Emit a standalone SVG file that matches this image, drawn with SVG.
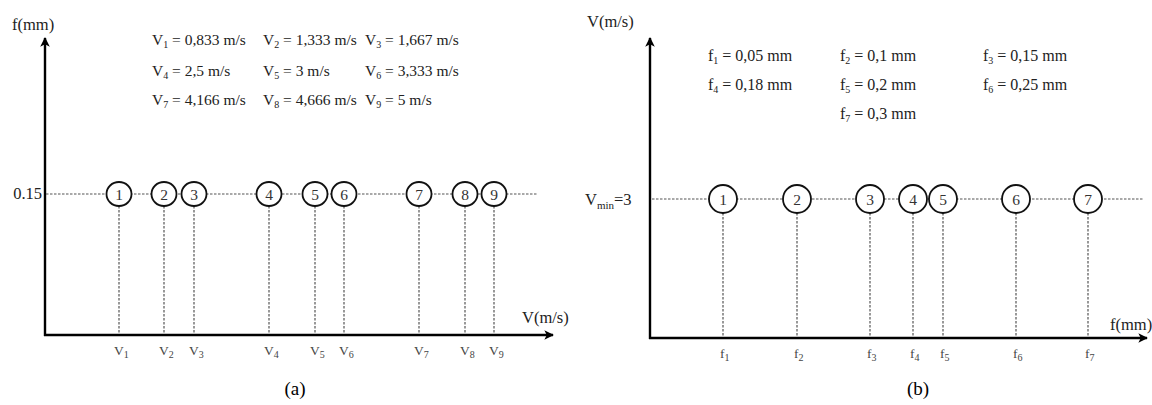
<svg xmlns="http://www.w3.org/2000/svg" width="1152" height="405" viewBox="0 0 1152 405">
<defs>
<marker id="arr" viewBox="0 0 10 10" refX="9" refY="5" markerWidth="4" markerHeight="4" orient="auto" markerUnits="strokeWidth">
<path d="M0,0 L10,5 L0,10 L2.5,5 Z" fill="#000"/>
</marker>
<style>
.axis{stroke:#000;stroke-width:2.4;fill:none}
.dash{stroke:#555;stroke-width:1.2;stroke-dasharray:2.5 1.5;fill:none}
.node ellipse,.node circle{fill:#fff;stroke:#111;stroke-width:1.8}
.num{font-family:"Liberation Serif",serif;font-size:15.5px;fill:#333;text-anchor:middle}
.leg{font-family:"Liberation Serif",serif;font-size:15.5px;fill:#222}
.legb{font-family:"Liberation Serif",serif;font-size:16px;fill:#222}
.lab{font-family:"Liberation Serif",serif;font-size:16.5px;fill:#222}
.tick{font-family:"Liberation Serif",serif;font-size:13.5px;fill:#444}
.sub{font-size:10px}
.cap{font-family:"Liberation Serif",serif;font-size:19px;fill:#000;text-anchor:middle}
</style>
</defs>

<!-- Panel (a) -->
<g id="axes-a">
<line class="axis" x1="45" y1="336" x2="45" y2="38" marker-end="url(#arr)"/>
<line class="axis" x1="44" y1="335" x2="553" y2="335" marker-end="url(#arr)"/>
<text class="lab" x="12" y="30">f(mm)</text>
<text class="lab" x="522" y="323">V(m/s)</text>
<text class="lab" x="42" y="199" text-anchor="end" font-size="15">0.15</text>
</g>

<g id="connectors-a">
<line class="dash" x1="46" y1="194" x2="537" y2="194"/>
<line class="dash" x1="119" y1="206" x2="119" y2="334"/>
<line class="dash" x1="164" y1="206" x2="164" y2="334"/>
<line class="dash" x1="194" y1="206" x2="194" y2="334"/>
<line class="dash" x1="269" y1="206" x2="269" y2="334"/>
<line class="dash" x1="315" y1="206" x2="315" y2="334"/>
<line class="dash" x1="344" y1="206" x2="344" y2="334"/>
<line class="dash" x1="419" y1="206" x2="419" y2="334"/>
<line class="dash" x1="465" y1="206" x2="465" y2="334"/>
<line class="dash" x1="494" y1="206" x2="494" y2="334"/>
</g>

<g id="a-node1" class="node"><ellipse cx="119" cy="194" rx="12.5" ry="12"/><text class="num" x="119" y="199.5">1</text></g>
<g id="a-node2" class="node"><ellipse cx="164" cy="194" rx="12.5" ry="12"/><text class="num" x="164" y="199.5">2</text></g>
<g id="a-node3" class="node"><ellipse cx="194" cy="194" rx="12.5" ry="12"/><text class="num" x="194" y="199.5">3</text></g>
<g id="a-node4" class="node"><ellipse cx="269" cy="194" rx="12.5" ry="12"/><text class="num" x="269" y="199.5">4</text></g>
<g id="a-node5" class="node"><ellipse cx="315" cy="194" rx="12.5" ry="12"/><text class="num" x="315" y="199.5">5</text></g>
<g id="a-node6" class="node"><ellipse cx="344" cy="194" rx="12.5" ry="12"/><text class="num" x="344" y="199.5">6</text></g>
<g id="a-node7" class="node"><ellipse cx="419" cy="194" rx="12.5" ry="12"/><text class="num" x="419" y="199.5">7</text></g>
<g id="a-node8" class="node"><ellipse cx="465" cy="194" rx="12.5" ry="12"/><text class="num" x="465" y="199.5">8</text></g>
<g id="a-node9" class="node"><ellipse cx="494" cy="194" rx="12.5" ry="12"/><text class="num" x="494" y="199.5">9</text></g>

<g id="ticks-a">
<text class="tick" x="114" y="355">V<tspan class="sub" dy="3">1</tspan></text>
<text class="tick" x="159" y="355">V<tspan class="sub" dy="3">2</tspan></text>
<text class="tick" x="189" y="355">V<tspan class="sub" dy="3">3</tspan></text>
<text class="tick" x="264" y="355">V<tspan class="sub" dy="3">4</tspan></text>
<text class="tick" x="310" y="355">V<tspan class="sub" dy="3">5</tspan></text>
<text class="tick" x="339" y="355">V<tspan class="sub" dy="3">6</tspan></text>
<text class="tick" x="414" y="355">V<tspan class="sub" dy="3">7</tspan></text>
<text class="tick" x="460" y="355">V<tspan class="sub" dy="3">8</tspan></text>
<text class="tick" x="489" y="355">V<tspan class="sub" dy="3">9</tspan></text>
</g>

<g id="legend-a">
<text class="leg" x="152" y="45">V<tspan class="sub" dy="3">1</tspan><tspan dy="-3"> = 0,833 m/s</tspan></text>
<text class="leg" x="263" y="45">V<tspan class="sub" dy="3">2</tspan><tspan dy="-3"> = 1,333 m/s</tspan></text>
<text class="leg" x="365" y="45">V<tspan class="sub" dy="3">3</tspan><tspan dy="-3"> = 1,667 m/s</tspan></text>
<text class="leg" x="152" y="76">V<tspan class="sub" dy="3">4</tspan><tspan dy="-3"> = 2,5 m/s</tspan></text>
<text class="leg" x="263" y="76">V<tspan class="sub" dy="3">5</tspan><tspan dy="-3"> = 3 m/s</tspan></text>
<text class="leg" x="365" y="76">V<tspan class="sub" dy="3">6</tspan><tspan dy="-3"> = 3,333 m/s</tspan></text>
<text class="leg" x="152" y="105">V<tspan class="sub" dy="3">7</tspan><tspan dy="-3"> = 4,166 m/s</tspan></text>
<text class="leg" x="263" y="105">V<tspan class="sub" dy="3">8</tspan><tspan dy="-3"> = 4,666 m/s</tspan></text>
<text class="leg" x="365" y="105">V<tspan class="sub" dy="3">9</tspan><tspan dy="-3"> = 5 m/s</tspan></text>
</g>

<text class="cap" x="295" y="395">(a)</text>

<!-- Panel (b) -->
<g id="axes-b">
<line class="axis" x1="650" y1="339" x2="650" y2="38" marker-end="url(#arr)"/>
<line class="axis" x1="649" y1="338" x2="1147" y2="338" marker-end="url(#arr)"/>
<text class="lab" x="587" y="27">V(m/s)</text>
<text class="lab" x="1110" y="330" font-size="13.5">f(mm)</text>
<text class="lab" x="585" y="205">V<tspan font-size="11" dy="4">min</tspan><tspan dy="-4">=3</tspan></text>
</g>

<g id="connectors-b">
<line class="dash" x1="652" y1="199" x2="1143" y2="199"/>
<line class="dash" x1="723" y1="213" x2="723" y2="337"/>
<line class="dash" x1="797" y1="213" x2="797" y2="337"/>
<line class="dash" x1="870" y1="213" x2="870" y2="337"/>
<line class="dash" x1="913" y1="213" x2="913" y2="337"/>
<line class="dash" x1="943" y1="213" x2="943" y2="337"/>
<line class="dash" x1="1016" y1="213" x2="1016" y2="337"/>
<line class="dash" x1="1088" y1="213" x2="1088" y2="337"/>
</g>

<g id="b-node1" class="node"><circle cx="723" cy="199" r="14"/><text class="num" x="723" y="204.5">1</text></g>
<g id="b-node2" class="node"><circle cx="797" cy="199" r="14"/><text class="num" x="797" y="204.5">2</text></g>
<g id="b-node3" class="node"><circle cx="870" cy="199" r="14"/><text class="num" x="870" y="204.5">3</text></g>
<g id="b-node4" class="node"><circle cx="913" cy="199" r="14"/><text class="num" x="913" y="204.5">4</text></g>
<g id="b-node5" class="node"><circle cx="943" cy="199" r="14"/><text class="num" x="943" y="204.5">5</text></g>
<g id="b-node6" class="node"><circle cx="1016" cy="199" r="14"/><text class="num" x="1016" y="204.5">6</text></g>
<g id="b-node7" class="node"><circle cx="1088" cy="199" r="14"/><text class="num" x="1088" y="204.5">7</text></g>

<g id="ticks-b">
<text class="tick" x="720" y="358">f<tspan class="sub" dy="3">1</tspan></text>
<text class="tick" x="794" y="358">f<tspan class="sub" dy="3">2</tspan></text>
<text class="tick" x="867" y="358">f<tspan class="sub" dy="3">3</tspan></text>
<text class="tick" x="910" y="358">f<tspan class="sub" dy="3">4</tspan></text>
<text class="tick" x="940" y="358">f<tspan class="sub" dy="3">5</tspan></text>
<text class="tick" x="1013" y="358">f<tspan class="sub" dy="3">6</tspan></text>
<text class="tick" x="1085" y="358">f<tspan class="sub" dy="3">7</tspan></text>
</g>

<g id="legend-b">
<text class="legb" x="708" y="61">f<tspan class="sub" dy="3">1</tspan><tspan dy="-3"> = 0,05 mm</tspan></text>
<text class="legb" x="840" y="61">f<tspan class="sub" dy="3">2</tspan><tspan dy="-3"> = 0,1 mm</tspan></text>
<text class="legb" x="983" y="61">f<tspan class="sub" dy="3">3</tspan><tspan dy="-3"> = 0,15 mm</tspan></text>
<text class="legb" x="708" y="90">f<tspan class="sub" dy="3">4</tspan><tspan dy="-3"> = 0,18 mm</tspan></text>
<text class="legb" x="840" y="90">f<tspan class="sub" dy="3">5</tspan><tspan dy="-3"> = 0,2 mm</tspan></text>
<text class="legb" x="983" y="90">f<tspan class="sub" dy="3">6</tspan><tspan dy="-3"> = 0,25 mm</tspan></text>
<text class="legb" x="840" y="119">f<tspan class="sub" dy="3">7</tspan><tspan dy="-3"> = 0,3 mm</tspan></text>
</g>

<text class="cap" x="918" y="395">(b)</text>
</svg>
